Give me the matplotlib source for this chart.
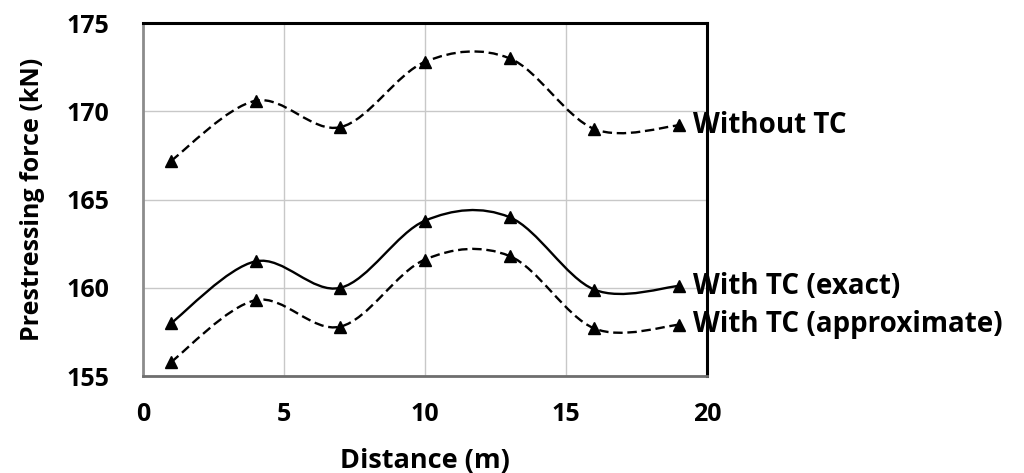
import numpy as np
import matplotlib
matplotlib.use("Agg")
from matplotlib import pyplot as plt
from matplotlib.path import Path
from matplotlib.patches import PathPatch

plt.rcParams['font.family'] = ['Open Sans', 'DejaVu Sans']
plt.rcParams['font.weight'] = 'bold'

distance = [1, 4, 7, 10, 13, 16, 19]
without_tc = [167.2, 170.6, 169.1, 172.8, 173.0, 169.0, 169.2]
with_tc_exact = [158.0, 161.5, 160.0, 163.8, 164.0, 159.9, 160.1]
with_tc_approx = [155.8, 159.3, 157.8, 161.6, 161.8, 157.7, 157.9]

series = [
    ("Without TC", without_tc, (0, (4, 2))),
    ("With TC (exact)", with_tc_exact, "-"),
    ("With TC (approximate)", with_tc_approx, (0, (4, 2))),
]


def smooth_path(xs, ys):
    # bezier through every point, like a spreadsheet "smoothed line"
    p = np.column_stack([xs, ys]).astype(float)
    ext = np.vstack([p[0], p, p[-1]])
    verts = [p[0]]
    codes = [Path.MOVETO]
    for i in range(len(p) - 1):
        p0, p1, p2, p3 = ext[i], ext[i + 1], ext[i + 2], ext[i + 3]
        c1 = p1 + (p2 - p0) / 6.0
        c2 = p2 - (p3 - p1) / 6.0
        verts += [c1, c2, p2]
        codes += [Path.CURVE4] * 3
    return Path(verts, codes)


fig = plt.figure(figsize=(10.24, 4.73), dpi=100)
ax = fig.add_axes([0.1396, 0.205, 0.5508, 0.7463])

for name, vals, ls in series:
    patch = PathPatch(smooth_path(distance, vals), facecolor='none',
                      edgecolor='black', lw=1.7, linestyle=ls, zorder=3)
    ax.add_patch(patch)
    ax.plot(distance, vals, linestyle='none', marker='^', color='black',
            markersize=9, zorder=4, clip_on=False)
    ax.annotate(name, (distance[-1], vals[-1]), xytext=(10, 0),
                textcoords='offset points', va='center', ha='left',
                fontsize=20, fontweight='bold', zorder=5,
                annotation_clip=False)

ax.set_xlim(0, 20)
ax.set_ylim(155, 175)
ax.set_xticks([0, 5, 10, 15, 20])
ax.set_yticks([155, 160, 165, 170, 175])
ax.grid(True, color='#c8c8c8', lw=1)
ax.set_axisbelow(True)
ax.tick_params(length=0, labelsize=18, pad=0)
ax.tick_params(axis='y', pad=24)
ax.tick_params(axis='x', pad=19)
for lbl in ax.get_xticklabels() + ax.get_yticklabels():
    lbl.set_fontweight('bold')

ax.spines['top'].set_color('black')
ax.spines['right'].set_color('black')
ax.spines['top'].set_linewidth(2.2)
ax.spines['right'].set_linewidth(2.2)
ax.spines['left'].set_color('#8c8c8c')
ax.spines['bottom'].set_color('#6e6e6e')
ax.spines['left'].set_linewidth(2)
ax.spines['bottom'].set_linewidth(2)

ax.set_xlabel("Distance (m)", fontsize=19.5, fontweight='bold', labelpad=15)
ax.set_ylabel("Prestressing force (kN)", fontsize=18, fontweight='bold', labelpad=16)

fig.savefig("out.png", dpi=100)
